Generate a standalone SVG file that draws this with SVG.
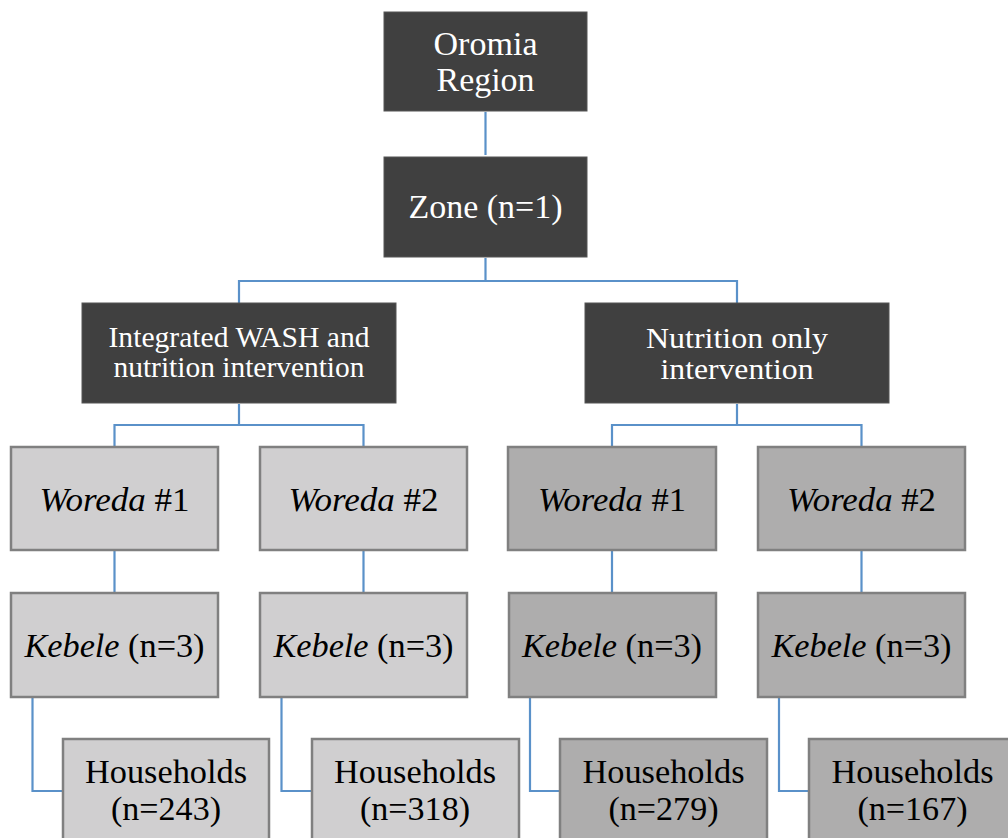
<svg xmlns="http://www.w3.org/2000/svg" width="1008" height="838" viewBox="0 0 1008 838" font-family="Liberation Serif">
<style>
.dark{fill:#404040;stroke:#555;stroke-width:1}
.lt{fill:#d0cfd0;stroke:#808080;stroke-width:2.5}
.md{fill:#aeadad;stroke:#808080;stroke-width:2.5}
text{text-anchor:middle}
.w{fill:#fff;font-size:33px}
.ws{fill:#fff;font-size:28.5px}
.b{fill:#000;font-size:33px}
.i{font-style:italic}
.c{fill:none;stroke:#5a91c9;stroke-width:2.2}
</style>
<rect width="1008" height="838" fill="#fff"/>
<g id="connectors">
<path class="c" d="M485.5 112V155"/>
<path class="c" d="M485.5 258V281M239 303V281H737V303"/>
<path class="c" d="M239 404V425M114.5 447V425H363.5V447"/>
<path class="c" d="M737 404V425M612 447V425H861.5V447"/>
<path class="c" d="M114.5 551V593M363.5 551V593M612 551V593M861.5 551V593"/>
<path class="c" d="M32.5 698V791H63M281.5 698V791H312M530 698V791H560M779 698V791H809"/>
</g>
<g id="n-oromia"><rect class="dark" x="384" y="12" width="203" height="99"/>
<text class="w" font-family="Liberation Serif" x="485.5" y="55" textLength="104" lengthAdjust="spacingAndGlyphs">Oromia</text>
<text class="w" font-family="Liberation Serif" x="485.5" y="91" textLength="98" lengthAdjust="spacingAndGlyphs">Region</text></g>
<g id="n-zone"><rect class="dark" x="384" y="157" width="203" height="100"/>
<text class="w" font-family="Liberation Serif" x="485.5" y="218" textLength="154" lengthAdjust="spacingAndGlyphs">Zone (n=1)</text></g>
<g id="n-integrated"><rect class="dark" x="82" y="303" width="314" height="100"/>
<text class="ws" font-family="Liberation Serif" x="239" y="347" textLength="261" lengthAdjust="spacingAndGlyphs">Integrated WASH and</text>
<text class="ws" font-family="Liberation Serif" x="239" y="377" textLength="251" lengthAdjust="spacingAndGlyphs">nutrition intervention</text></g>
<g id="n-nutrition"><rect class="dark" x="585" y="303" width="304" height="100"/>
<text class="ws" font-family="Liberation Serif" x="737" y="348" textLength="182" lengthAdjust="spacingAndGlyphs">Nutrition only</text>
<text class="ws" font-family="Liberation Serif" x="737" y="379" textLength="153" lengthAdjust="spacingAndGlyphs">intervention</text></g>
<g id="n-woreda-a1"><rect class="lt" x="11" y="447" width="207" height="103"/>
<text class="b" font-family="Liberation Serif" x="114.5" y="511" textLength="150" lengthAdjust="spacingAndGlyphs"><tspan class="i">Woreda</tspan> #1</text></g>
<g id="n-woreda-a2"><rect class="lt" x="260" y="447" width="207" height="103"/>
<text class="b" font-family="Liberation Serif" x="363.5" y="511" textLength="150" lengthAdjust="spacingAndGlyphs"><tspan class="i">Woreda</tspan> #2</text></g>
<g id="n-woreda-b1"><rect class="md" x="508" y="447" width="208" height="103"/>
<text class="b" font-family="Liberation Serif" x="612" y="511" textLength="148" lengthAdjust="spacingAndGlyphs"><tspan class="i">Woreda</tspan> #1</text></g>
<g id="n-woreda-b2"><rect class="md" x="758" y="447" width="207" height="103"/>
<text class="b" font-family="Liberation Serif" x="861.5" y="511" textLength="149" lengthAdjust="spacingAndGlyphs"><tspan class="i">Woreda</tspan> #2</text></g>
<g id="n-kebele-a1"><rect class="lt" x="11" y="593" width="207" height="104"/>
<text class="b" font-family="Liberation Serif" x="114.5" y="657" textLength="180" lengthAdjust="spacingAndGlyphs"><tspan class="i">Kebele</tspan> (n=3)</text></g>
<g id="n-kebele-a2"><rect class="lt" x="260" y="593" width="207" height="104"/>
<text class="b" font-family="Liberation Serif" x="363.5" y="657" textLength="180" lengthAdjust="spacingAndGlyphs"><tspan class="i">Kebele</tspan> (n=3)</text></g>
<g id="n-kebele-b1"><rect class="md" x="509" y="593" width="207" height="104"/>
<text class="b" font-family="Liberation Serif" x="612" y="657" textLength="180" lengthAdjust="spacingAndGlyphs"><tspan class="i">Kebele</tspan> (n=3)</text></g>
<g id="n-kebele-b2"><rect class="md" x="758" y="593" width="207" height="104"/>
<text class="b" font-family="Liberation Serif" x="861.5" y="657" textLength="180" lengthAdjust="spacingAndGlyphs"><tspan class="i">Kebele</tspan> (n=3)</text></g>
<g id="n-hh-a1"><rect class="lt" x="63" y="739" width="206" height="110"/>
<text class="b" font-family="Liberation Serif" x="166" y="783" textLength="162" lengthAdjust="spacingAndGlyphs">Households</text>
<text class="b" font-family="Liberation Serif" x="166" y="820" textLength="110" lengthAdjust="spacingAndGlyphs">(n=243)</text></g>
<g id="n-hh-a2"><rect class="lt" x="312" y="739" width="207" height="110"/>
<text class="b" font-family="Liberation Serif" x="415" y="783" textLength="162" lengthAdjust="spacingAndGlyphs">Households</text>
<text class="b" font-family="Liberation Serif" x="415" y="820" textLength="110" lengthAdjust="spacingAndGlyphs">(n=318)</text></g>
<g id="n-hh-b1"><rect class="md" x="560" y="739" width="207" height="110"/>
<text class="b" font-family="Liberation Serif" x="663.5" y="783" textLength="162" lengthAdjust="spacingAndGlyphs">Households</text>
<text class="b" font-family="Liberation Serif" x="663.5" y="820" textLength="110" lengthAdjust="spacingAndGlyphs">(n=279)</text></g>
<g id="n-hh-b2"><rect class="md" x="809" y="739" width="207" height="110"/>
<text class="b" font-family="Liberation Serif" x="912.5" y="783" textLength="162" lengthAdjust="spacingAndGlyphs">Households</text>
<text class="b" font-family="Liberation Serif" x="912.5" y="820" textLength="110" lengthAdjust="spacingAndGlyphs">(n=167)</text></g>
</svg>
